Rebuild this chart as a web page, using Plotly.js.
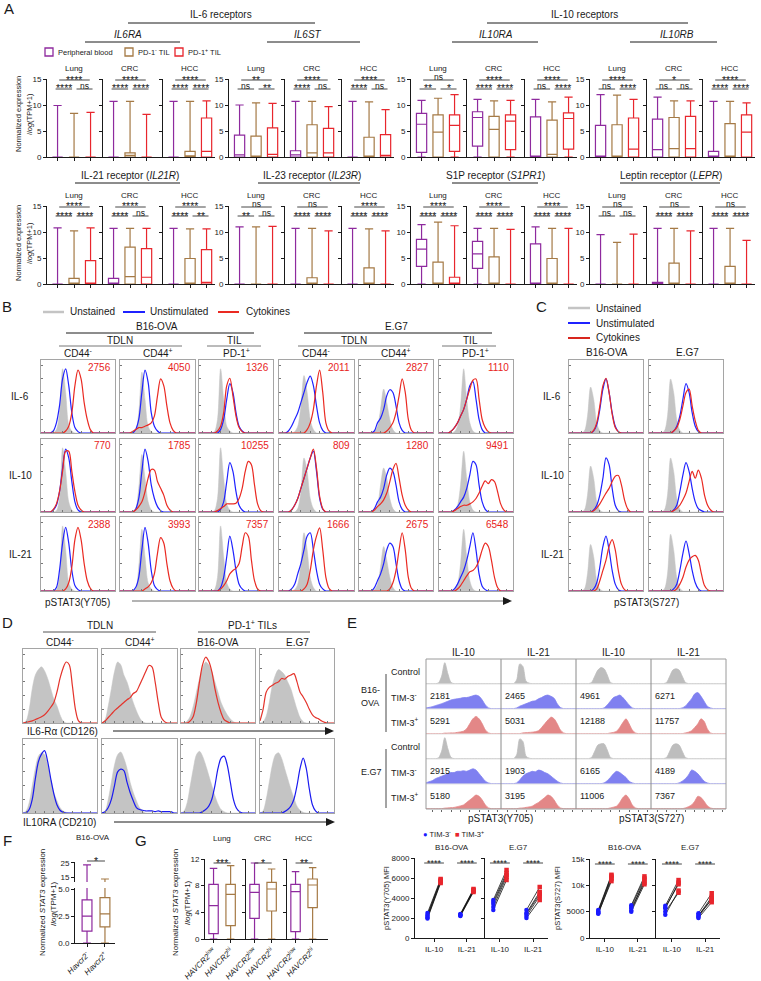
<!DOCTYPE html>
<html>
<head>
<meta charset="utf-8">
<script src="https://cdn.plot.ly/plotly-3.0.1.min.js"></script>
<style>html,body{margin:0;padding:0;background:#fff}#fig{width:761px;height:981px}</style>
</head>
<body>
<div id="fig"></div>
<script>
// ---------- Panel A: box summaries [min, q1, median, q3, max] for blood / PD-1- TIL / PD-1+ TIL ----------
const cohorts = ['Lung', 'CRC', 'HCC'];
const IL6RA = [
  [[0,0,0,0,9.9],[0,0,0,0,8.4],[0,0,0,0,8.6]],
  [[0,0,0,0,10.7],[0,0,0.3,0.8,10.7],[0,0,0,0,8.2]],
  [[0,0,0,0,10.7],[0,0,0.2,1.1,10.7],[0,0,1.1,7.5,10.8]]
];
const IL6ST = [
  [[0,0,0.4,4.2,10.0],[0,0,0,4.0,10.4],[0,0,0.5,5.6,10.3]],
  [[0,0,0.4,1.2,10.7],[0,0,0.8,6.2,10.7],[0,0,0.8,5.5,9.7]],
  [[0,0,0,0,10.7],[0,0,0,3.8,10.6],[0,0,0.3,4.3,9.1]]
];
const IL10RA = [
  [[0,0.9,6.3,8.4,10.9],[0,0,4.8,8.1,11.3],[0,1.1,6.1,8.1,12.0]],
  [[0,2.1,7.6,8.7,11.1],[0,0,5.3,7.8,10.8],[0,1.4,6.9,8.1,10.9]],
  [[0,0,0,7.7,11.1],[0,0,0.5,7.1,10.6],[0,1.5,7.4,8.5,11.5]]
];
const IL10RB = [
  [[0,0,0,6.1,12.0],[0,0,0,6.2,11.9],[0,0,1.5,7.5,11.1]],
  [[0,0,1.4,7.3,11.5],[0,0,1.6,7.6,10.8],[0,0,1.6,7.8,10.8]],
  [[0,0,0,1.1,10.7],[0,0,0,6.4,10.7],[0,0,4.8,8.1,10.4]]
];
const IL21R = [
  [[0,0,0,0,10.8],[0,0,0,1.1,10.2],[0,0,0,4.5,10.8]],
  [[0,0,0,1.1,10.7],[0,0,1.4,7.1,10.7],[0,0,1.3,6.8,10.7]],
  [[0,0,0,0,10.7],[0,0,0,4.9,10.6],[0,0,0.3,6.6,10.6]]
];
const IL23R = [
  [[0,0,0,0,11.0],[0,0,0,0,11.0],[0,0,0,0,11.1]],
  [[0,0,0,0,10.7],[0,0,0,1.2,10.7],[0,0,0,0,10.2]],
  [[0,0,0,0,10.7],[0,0,0,3.1,10.6],[0,0,0,0,10.2]]
];
const S1PR1 = [
  [[0,3.4,6.7,8.6,11.4],[0,0,0,4.2,11.9],[0,0,0,1.3,11.2]],
  [[0,3.0,5.8,8.2,10.7],[0,0,0,5.2,10.7],[0,0,0,0,10.5]],
  [[0,0,0,7.7,11.0],[0,0,0,4.9,10.7],[0,0,0,0,10.7]]
];
const LEPR = [
  [[0,0,0,0,9.5],[0,0,0,0,8.0],[0,0,0,0,9.6]],
  [[0,0,0,0.3,10.7],[0,0,0,4.0,10.7],[0,0,0,0,10.2]],
  [[0,0,0,0,10.7],[0,0,0,3.4,10.7],[0,0,0,0,8.4]]
];
// significance: [blood vs PD-1+, blood vs PD-1-, PD-1- vs PD-1+]
const IL6RA_sig = [['****','****','ns'],['****','****','****'],['****','****','****']];
const IL6ST_sig = [['**','ns','**'],['****','****','ns'],['****','****','ns']];
const IL10RA_sig = [['ns','**','*'],['****','****','****'],['****','ns','****']];
const IL10RB_sig = [['****','ns','****'],['*','ns','ns'],['****','****','****']];
const IL21R_sig = [['****','****','****'],['****','****','ns'],['****','****','**']];
const IL23R_sig = [['ns','**','ns'],['ns','****','****'],['****','****','****']];
const S1PR1_sig = [['****','****','****'],['****','****','****'],['****','****','****']];
const LEPR_sig = [['ns','ns','ns'],['ns','****','****'],['ns','****','****']];

// ---------- Histograms: counts on a 25-bin fluorescence grid ----------
const bins = [0,1,2,3,4,5,6,7,8,9,10,11,12,13,14,15,16,17,18,19,20,21,22,23,24];

const bIL6Gray = [
  [0,0,0,0,0,0.5,3,9.5,6,1.2,0.3,0,0,0,0,0,0,0,0,0,0,0,0,0,0],
  [0,0,0,0,0,0.3,3,9,5,1,0.2,0,0,0,0,0,0,0,0,0,0,0,0,0,0],
  [0,0,0,0,0,0.2,2,9.5,5,1,0.3,0,0,0,0,0,0,0,0,0,0,0,0,0,0],
  [0,0,0,0,0,0.2,1,4,8.5,6,2,0.5,0,0,0,0,0,0,0,0,0,0,0,0,0],
  [0,0,0,0,0,0.2,1,3.5,6.5,4.5,2,0.5,0,0,0,0,0,0,0,0,0,0,0,0,0],
  [0,0,0,0,0,0.2,1,4,9.5,5,1.5,0.3,0,0,0,0,0,0,0,0,0,0,0,0,0]
];
const bIL6Blue = [
  [0,0,0,0,0.3,1.5,4,8,9.5,7,3,0.8,0.2,0,0,0,0,0,0,0,0,0,0,0,0],
  [0,0,0,0,0,0.5,2,6,9.3,7.5,3,1,0.3,0,0,0,0,0,0,0,0,0,0,0,0],
  [0,0,0,0,0,0,0,0.5,2,5,7.3,6,3,1,0.3,0,0,0,0,0,0,0,0,0,0],
  [0,0,0,0.3,1,2,3,4.5,6,7.5,8.4,7,4,1.5,0.4,0,0,0,0,0,0,0,0,0,0],
  [0,0,0,0,0,0.3,1.5,2.2,3.5,5.5,6.4,6,4,1.5,0.4,0,0,0,0,0,0,0,0,0,0],
  [0,0,0,0,0.3,0.8,1.5,2.5,3.5,5,7,7.6,5,2,0.5,0,0,0,0,0,0,0,0,0,0]
];
const bIL6Red = [
  [0,0,0,0,0,0,0,0,0.3,1,3,7,9.3,8,4.5,2,0.5,0,0,0,0,0,0,0,0],
  [0,0,0,0,0.2,0.5,0.8,0.8,1,1.2,1.5,2.5,5.5,8,7,4,1.5,0.4,0,0,0,0,0,0,0],
  [0,0,0,0,0,0,0.3,1,3,7,8.1,5.5,2.5,0.8,0.2,0,0,0,0,0,0,0,0,0,0],
  [0,0,0,0,0,0,0,0,0,0.5,1.5,3.5,7,9.3,6,1.5,0.3,0,0,0,0,0,0,0,0],
  [0,0,0,0,0,0,0,0,0,0.3,0.8,1.5,3,5.5,8,6,2,0.4,0,0,0,0,0,0,0],
  [0,0,0,0,0.3,0.8,1.5,2.5,3.5,5,6.5,7.8,8,5,2,0.8,0.2,0,0,0,0,0,0,0,0]
];
const bIL10Gray = [
  [0,0,0,0,0,0.2,2,9.5,6,1.5,0.3,0,0,0,0,0,0,0,0,0,0,0,0,0,0],
  [0,0,0,0,0,0.5,3.5,8.5,5,1.5,0.3,0,0,0,0,0,0,0,0,0,0,0,0,0,0],
  [0,0,0,0,0,0.2,2,9.5,5,1.2,0.3,0,0,0,0,0,0,0,0,0,0,0,0,0,0],
  [0,0,0,0,0,0,0.5,3,8,6,2,0.5,0,0,0,0,0,0,0,0,0,0,0,0,0],
  [0,0,0,0,0,0.2,1,4,6.5,5,2,0.5,0,0,0,0,0,0,0,0,0,0,0,0,0],
  [0,0,0,0,0,0.2,1,4,9,5,1.5,0.3,0,0,0,0,0,0,0,0,0,0,0,0,0]
];
const bIL10Blue = [
  [0,0,0,0,0.3,1,3,6.5,9.3,8,4.5,1.5,0.3,0,0,0,0,0,0,0,0,0,0,0,0],
  [0,0,0,0,0,0.4,2,6,9.3,7.5,4,2,0.8,0.2,0,0,0,0,0,0,0,0,0,0,0],
  [0,0,0,0,0,0,0,0.4,1.5,4.5,7.3,6,3,1,0.3,0,0,0,0,0,0,0,0,0,0],
  [0,0,0,0,0.3,1,2,3.5,5,6.5,8,9,6,2,0.4,0,0,0,0,0,0,0,0,0,0],
  [0,0,0,0,0,0.5,1.5,2.2,3.5,5.5,6.5,6,4,1.5,0.4,0,0,0,0,0,0,0,0,0,0],
  [0,0,0,0,0,0.3,0.8,1.5,2.2,3.5,5.5,7.5,7,4,1.5,0.4,0,0,0,0,0,0,0,0,0]
];
const bIL10Red = [
  [0,0,0,0,0.4,1.2,3,6,9,9,6,3,1,0.3,0,0,0,0,0,0,0,0,0,0,0],
  [0,0,0,0,0,0.3,0.8,1.5,3,5,6.3,6.2,4.5,3.5,2.5,1,0.3,0,0,0,0,0,0,0,0],
  [0,0,0,0,0,0,0.2,0.5,0.8,1.2,1.2,1.2,1.3,2,3.5,6,7.5,7,4,1.2,0.2,0,0,0,0],
  [0,0,0,0,0.3,1,2,3.5,5,6.5,8,9.3,6.5,2.3,0.5,0,0,0,0,0,0,0,0,0,0],
  [0,0,0,0,0,0.3,0.8,1.2,1.8,2.8,4.5,6.3,7.2,5,2.5,1,0.3,0,0,0,0,0,0,0,0],
  [0,0,0,0,0,0.2,0.5,0.8,1,1,1.2,1.5,2,2.8,3.8,4.6,4.2,4.8,4.5,3,1.2,0.3,0,0,0]
];
const bIL21Gray = [
  [0,0,0,0,0,0.2,2,9.5,6,1.2,0.3,0,0,0,0,0,0,0,0,0,0,0,0,0,0],
  [0,0,0,0,0,0.3,3.5,9,5,1.2,0.3,0,0,0,0,0,0,0,0,0,0,0,0,0,0],
  [0,0,0,0,0,0.2,2,9.5,5,1.2,0.3,0,0,0,0,0,0,0,0,0,0,0,0,0,0],
  [0,0,0,0,0,0.2,1,4,8.5,6,2,0.5,0,0,0,0,0,0,0,0,0,0,0,0,0],
  [0,0,0,0,0,0.2,1,3.5,6.5,4.5,2,0.5,0,0,0,0,0,0,0,0,0,0,0,0,0],
  [0,0,0,0,0,0.2,1,4,9,5,1.5,0.3,0,0,0,0,0,0,0,0,0,0,0,0,0]
];
const bIL21Blue = [
  [0,0,0,0,0,0.5,3,7,9.3,7,3,0.8,0.2,0,0,0,0,0,0,0,0,0,0,0,0],
  [0,0,0,0,0,0.5,2,6,9.3,7,3,0.8,0.2,0,0,0,0,0,0,0,0,0,0,0,0],
  [0,0,0,0,0,0,0,0.5,2,5,8,6,3,1,0.3,0,0,0,0,0,0,0,0,0,0],
  [0,0,0,0,0.3,1,2.5,4,6,8,8.5,6,3,1,0.3,0,0,0,0,0,0,0,0,0,0],
  [0,0,0,0,0,0.5,1.5,2.5,4,6,7,6.5,4,1.5,0.3,0,0,0,0,0,0,0,0,0,0],
  [0,0,0,0,0,0.3,1,2,3,4.5,6.5,8.5,6,2.5,0.7,0.2,0,0,0,0,0,0,0,0,0]
];
const bIL21Red = [
  [0,0,0,0,0,0,0,0,0.3,1.2,3.5,7.5,9.3,7.5,4,1.5,0.4,0,0,0,0,0,0,0,0],
  [0,0,0,0,0,0,0,0,0.3,0.6,1.2,2.5,5.5,7.8,7,4,1.5,0.4,0,0,0,0,0,0,0],
  [0,0,0,0,0,0,0,0.3,0.8,1.5,2.5,3,3.3,4,6.5,8.5,8,4.5,1.5,0.3,0,0,0,0,0],
  [0,0,0,0,0,0,0,0,0.3,1,3,6,8,9.2,6,2,0.4,0,0,0,0,0,0,0,0],
  [0,0,0,0,0,0,0,0,0,0,0.3,1.2,3,6,8.5,6,2,0.4,0,0,0,0,0,0,0],
  [0,0,0,0,0,0,0.3,0.8,1.5,2.2,2.8,3,3.5,4.5,6,7,6.5,4.5,2,0.5,0,0,0,0,0]
];
const bIL6Mfi = [2756, 4050, 1326, 2011, 2827, 1110];
const bIL10Mfi = [770, 1785, 10255, 809, 1280, 9491];
const bIL21Mfi = [2388, 3993, 7357, 1666, 2675, 6548];

const cIL6Gray = [
  [0,0,0,0,0,0.3,2.5,6.8,5,1.5,0.3,0,0,0,0,0,0,0,0,0,0,0,0,0,0],
  [0,0,0,0,0,0.3,2.5,8,6,2,0.4,0,0,0,0,0,0,0,0,0,0,0,0,0,0]
];
const cIL10Gray = [
  [0,0,0,0,0,0.3,2.5,6.8,5,1.5,0.3,0,0,0,0,0,0,0,0,0,0,0,0,0,0],
  [0,0,0,0,0,0.3,2.5,8,6,2,0.4,0,0,0,0,0,0,0,0,0,0,0,0,0,0]
];
const cIL21Gray = [
  [0,0,0,0,0,0.3,2.5,6.8,5,1.5,0.3,0,0,0,0,0,0,0,0,0,0,0,0,0,0],
  [0,0,0,0,0,0.3,2.5,8.3,6,2,0.4,0,0,0,0,0,0,0,0,0,0,0,0,0,0]
];
const cIL6Blue = [
  [0,0,0,0,0,0,0,0,0.3,1.2,3.5,6.5,8,6,3,1,0.2,0,0,0,0,0,0,0,0],
  [0,0,0,0,0,0,0,0,0.3,1,2.5,5,7.3,6,3,1,0.2,0,0,0,0,0,0,0,0]
];
const cIL10Blue = [
  [0,0,0,0,0,0,0,0,0.3,1,2.5,5,8,7,3.5,1,0.2,0,0,0,0,0,0,0,0],
  [0,0,0,0,0,0,0,0,0.3,1,3,5.5,7.3,6,3.5,1.5,0.5,0.2,0,0,0,0,0,0,0]
];
const cIL21Blue = [
  [0,0,0,0,0,0,0,0,0.3,1.2,3.5,6.5,8,6,3,1,0.2,0,0,0,0,0,0,0,0],
  [0,0,0,0,0,0,0,0,0.3,1,3,5.5,7.3,5.5,3,1.2,0.3,0,0,0,0,0,0,0,0]
];
const cIL6Red = [
  [0,0,0,0,0,0,0,0,0.4,1.5,4,7,8.1,6,2.8,0.8,0.2,0,0,0,0,0,0,0,0],
  [0,0,0,0,0,0,0,0,0.3,0.8,2,4,6,6.5,4,1.8,0.4,0,0,0,0,0,0,0,0]
];
const cIL10Red = [
  [0,0,0,0,0,0,0,0,0.2,0.6,1.2,2,2.8,3.5,4.5,5.3,5.4,4,1.8,0.5,0,0,0,0,0],
  [0,0,0,0,0,0,0,0,0.2,0.5,1,1.8,2.8,4.5,6,5,6.2,5,2.5,1,0.3,0,0,0,0]
];
const cIL21Red = [
  [0,0,0,0,0,0,0,0,0,0.3,1.5,3,4.5,6.5,7.5,6,3,1,0.2,0,0,0,0,0,0],
  [0,0,0,0,0,0,0,0,0,0.3,1,2,3.5,4.5,5,5.2,4.5,2.5,0.8,0.2,0,0,0,0,0]
];

const dCD126Gray = [
  [0,0.3,2,5,7,7.8,8.2,7.6,6.5,5,3.5,2.5,1.2,0.3,0,0,0,0,0,0,0,0,0,0,0],
  [0,0.5,2.5,5,7.5,8.9,8.5,7,6,4.5,3,1.8,0.8,0.2,0,0,0,0,0,0,0,0,0,0,0],
  [0,0,0.3,1,2.5,4.5,6.5,8,8.9,8.5,7.5,6,4.5,3,2,1.2,0.6,0.2,0,0,0,0,0,0,0],
  [0,0.2,1,3,5.5,7,7.8,7.5,7,6,5,3.5,2,0.8,0.2,0,0,0,0,0,0,0,0,0,0]
];
const dCD126Red = [
  [0,0.1,0.2,0.3,0.5,0.7,0.9,1.2,1.7,2.3,3,4.5,6.5,8,8.9,8.5,5.5,2,0.3,0,0,0,0,0,0],
  [0,0.3,0.8,1.3,1.8,2.2,2.6,3,3.4,3.7,4.3,4.6,5.5,6.5,7.5,8.4,8.2,6,3,0.8,0.2,0,0,0,0],
  [0,0,0,0.3,1,3,6,8.5,9.6,9,7.5,5,3,1.5,0.5,0.2,0,0,0,0,0,0,0,0,0],
  [0.3,2,4.5,5.2,5.5,5.8,6,6.5,6.4,6.8,7,7.2,6,4.5,3.8,3,2,1.2,0.8,0.6,0.3,0.1,0,0,0]
];
const dCD210Gray = [
  [0,0.3,1.5,4,6.5,8.3,8.8,8.5,7,5,3,1.8,0.8,0.3,0.1,0,0,0,0,0,0,0,0,0,0],
  [0,0.3,2,4.5,7,8.5,8.9,8,6.5,4.5,3,1.8,0.8,0.3,0,0,0,0,0,0,0,0,0,0,0],
  [0,0.3,1.5,4,6.5,8.5,9,8.3,7,5.5,4,2.5,1.3,0.5,0.2,0,0,0,0,0,0,0,0,0,0],
  [0,0.3,2,4.5,7,8.5,8.8,8,6.5,5,3.5,2.2,1,0.4,0.1,0,0,0,0,0,0,0,0,0,0]
];
const dCD210Blue = [
  [0,0,0.5,2,5,7.5,8.6,9.1,7.5,5,2.8,1.2,0.4,0.1,0,0,0,0,0,0,0,0,0,0,0],
  [0,0.2,0.8,2,4,6,6.4,6.2,4.5,3,1.8,0.8,0.5,0.4,0.3,0.3,0.3,0.2,0.3,0.2,0.2,0.2,0.2,0,0],
  [0,0,0,0,0,0,0,0.2,0.5,1,2,4,6.5,8,8.3,7,4.5,2,0.7,0.2,0,0,0,0,0],
  [0,0,0,0,0,0,0,0,0.2,0.5,1,2,4,6.5,8,6.5,3.5,1.2,0.3,0,0,0,0,0,0]
];

// E ridges, rows: B16 control / TIM-3- / TIM-3+, E.G7 control / TIM-3- / TIM-3+
const eY705IL10 = [
  [0,0,0,0,0.3,3,8.5,4,0.5,0,0,0,0,0,0,0,0,0,0,0,0,0,0,0,0],
  [0.3,0.5,0.8,1.2,1.6,2,2.5,3,3.5,3.8,4,4.2,4.5,4.5,4.8,5.2,5.5,5,3.5,1.5,0.3,0,0,0,0],
  [0,0,0,0,0,0,0.2,0.2,0.3,0.3,0.5,0.7,1,2,4,6,7,6,4,1.5,0.3,0,0,0,0],
  [0,0,0,0,0.3,3,8.5,4,0.5,0,0,0,0,0,0,0,0,0,0,0,0,0,0,0,0],
  [0.3,0.8,1.2,2,2.5,3,3.5,4,4.5,4.5,5,5,5.2,5,5.5,6,5.5,4,2.5,1,0.3,0,0,0,0],
  [0,0,0,0,0,0,0.2,0.3,0.4,0.5,0.8,1.1,1.5,2.5,3.5,4.5,5.5,5,3.5,1.5,0.3,0,0,0,0]
];
const eY705IL21 = [
  [0,0,0,0,0,1.5,8,7,1,0.2,0,0,0,0,0,0,0,0,0,0,0,0,0,0,0],
  [0,0,0,0,0,0.3,1,1.5,2,2.5,3,3.2,4,4.5,5.2,5.5,5,4.2,2,0.5,0,0,0,0,0],
  [0,0,0,0,0,0,0,0.3,0.4,0.5,0.6,0.8,1.2,2.5,4,5.5,6.7,6,4,1.5,0.3,0,0,0,0],
  [0,0,0,0,0,1.5,8,7,1,0.2,0,0,0,0,0,0,0,0,0,0,0,0,0,0,0],
  [0,0,0,0,0,0.3,1.5,3,4,4.5,5,4.8,5.5,5.2,4.5,4,3,2,1,0.3,0,0,0,0,0],
  [0,0,0,0,0,0,0.2,0.3,0.5,0.7,1,1.8,2.5,3.5,4.5,5.5,5,3.5,1.5,0.3,0,0,0,0,0]
];
const eS727IL10 = [
  [0,0,0,0,0,0.5,3,5.5,6.5,6,3.5,0.5,0,0,0,0,0,0,0,0,0,0,0,0,0],
  [0,0,0,0,0,0,0,0,0,0.3,1.5,3,4.5,5,5.5,4.5,3,1.5,0.3,0,0,0,0,0,0],
  [0,0,0,0,0,0,0,0,0,0,0,0.3,0.5,1,2.5,4.5,6,4,1.5,0.3,0,0,0,0,0],
  [0,0,0,0,0,0.5,3,5.5,6,6,3.5,0.5,0,0,0,0,0,0,0,0,0,0,0,0,0],
  [0,0,0,0,0,0,0,0,0,0.3,1.2,2.5,4,5,4.5,3.5,2.5,1,0.3,0,0,0,0,0,0],
  [0,0,0,0,0,0,0,0,0,0,0,0.3,0.6,1,2.5,4.5,5.5,4,1.5,0.3,0,0,0,0,0]
];
const eS727IL21 = [
  [0,0,0,0,0,0.5,3,5.5,6,5.5,3,0.5,0,0,0,0,0,0,0,0,0,0,0,0,0],
  [0,0,0,0,0,0,0,0,0,0,0.3,1,2.5,4,6,6.5,5,3,1,0.3,0,0,0,0,0],
  [0,0,0,0,0,0,0,0,0,0,0,0.3,0.6,1.2,2.5,4,6,5,2,0.3,0,0,0,0,0],
  [0,0,0,0,0,0.5,3,5.5,6,5.5,3,0.5,0,0,0,0,0,0,0,0,0,0,0,0,0],
  [0,0,0,0,0,0,0,0,0,0.3,1,2,3.5,5.5,5,4,2.5,1,0.3,0,0,0,0,0,0],
  [0,0,0,0,0,0,0,0,0,0,0,0.3,0.8,1.5,3,5,4.5,3,1.2,0.3,0,0,0,0,0]
];
const eMfiY705IL10 = ['', 2181, 5291, '', 2915, 5180];
const eMfiY705IL21 = ['', 2465, 5031, '', 1903, 3195];
const eMfiS727IL10 = ['', 4961, 12188, '', 6165, 11006];
const eMfiS727IL21 = ['', 6271, 11757, '', 4189, 7367];

// E paired MFI, [IL-10 mice, IL-21 mice]
const y705B16Neg = [[2500, 2200, 1950, 2050, 2300], [2200, 2400, 2300, 2350, 2250]];
const y705B16Pos = [[5900, 5700, 5500, 5600, 5800], [4600, 4900, 4750, 4800, 4700]];
const y705EG7Neg = [[3800, 3600, 3100, 2800, 3400], [2800, 2500, 2200, 2000, 2400]];
const y705EG7Pos = [[6800, 6500, 6100, 5800, 6300], [5100, 4600, 4200, 3800, 4400]];
const s727B16Neg = [[5300, 4900, 4700, 5100, 4600], [6200, 5600, 5200, 5900, 5000]];
const s727B16Pos = [[12000, 11500, 10800, 11800, 11200], [11700, 10500, 11000, 11300, 10200]];
const s727EG7Neg = [[6100, 5600, 5000, 4400, 5800], [4700, 4200, 3800, 4400, 4000]];
const s727EG7Pos = [[11000, 10500, 8600, 9000, 10200], [8500, 7800, 6800, 7200, 7500]];

// F / G boxes [min, q1, median, q3, max]
const fHavcr2 = [[0, 1.1, 2.5, 4.0, 23.5], [0, 1.5, 2.7, 4.2, 13.6]];
const gLung = [[0, 0.8, 5.0, 8.2, 10.6], [0, 2.0, 6.7, 8.2, 11.0]];
const gCRC = [[0, 3.1, 7.0, 8.2, 11.4], [0, 4.2, 7.5, 8.5, 10.5]];
const gHCC = [[0, 1.1, 7.1, 8.2, 10.1], [0, 4.7, 8.1, 9.0, 10.7]];
const gSig = ['***', '*', '**'];

// ---------- drawing ----------
const W = 761, H = 981;
const FONT = '"Liberation Sans", Arial, Helvetica, sans-serif';
const INK = '#1a1a1a';
const PURPLE = '#8e2a9e', TAN = '#a57a46', RED = '#e8262d';
const groupColors = [PURPLE, TAN, RED];
const BLUE_L = '#1f22ff', RED_L = '#ea2a22', GRAY_F = '#c4c4c4';

const traces = [], annotations = [], shapes = [];
const layout = {
  width: W, height: H, margin: {l: 0, r: 0, t: 0, b: 0},
  paper_bgcolor: '#fff', plot_bgcolor: 'rgba(0,0,0,0)', showlegend: false,
  font: {family: FONT, size: 8, color: INK}, annotations: annotations, shapes: shapes
};
const px = x => x / W;
const py = y => 1 - y / H;
const baseAxis = {showgrid: false, zeroline: false, showticklabels: false, ticks: '', fixedrange: true, showline: false};
const inkAxis = {showline: true, linecolor: INK, linewidth: 1, ticks: 'outside', ticklen: 3, tickwidth: 1, tickcolor: INK,
  tickfont: {family: FONT, size: 8, color: INK}};
let nAx = 0;

function subplot(x0, x1, y0, y1, xo, yo) {
  nAx++;
  const s = nAx === 1 ? '' : String(nAx);
  layout['xaxis' + s] = Object.assign({}, baseAxis, {domain: [px(x0), px(x1)], anchor: 'y' + s}, xo);
  layout['yaxis' + s] = Object.assign({}, baseAxis, {domain: [py(y1), py(y0)], anchor: 'x' + s}, yo);
  return {x: 'x' + s, y: 'y' + s};
}
function label(x, y, t, size, extra) {
  annotations.push(Object.assign({xref: 'paper', yref: 'paper', x: px(x), y: py(y), text: t, showarrow: false,
    xanchor: 'center', yanchor: 'middle', font: {family: FONT, size: size || 8, color: INK}}, extra || {}));
}
function hline(x0, x1, y, color, w) {
  shapes.push({type: 'line', xref: 'paper', yref: 'paper', x0: px(x0), x1: px(x1), y0: py(y), y1: py(y),
    line: {color: color || INK, width: w || 1}});
}
function vline(x, y0, y1, color, w) {
  shapes.push({type: 'line', xref: 'paper', yref: 'paper', x0: px(x), x1: px(x), y0: py(y0), y1: py(y1),
    line: {color: color || INK, width: w || 1}});
}
function arrowHead(x, y) {
  shapes.push({type: 'path', xref: 'paper', yref: 'paper', fillcolor: INK, line: {width: 0},
    path: `M${px(x - 9)},${py(y - 4)} L${px(x)},${py(y)} L${px(x - 9)},${py(y + 4)} Z`});
}
// stars sit high in the em box, "ns" sits low: place each so the glyphs rest just above the line
function bracket(ax, c0, c1, yPix, sig, scale) {
  const k = scale || 1;
  const stars = sig.indexOf('*') >= 0;
  shapes.push({type: 'line', xref: ax.x, yref: 'paper', x0: c0, x1: c1, y0: py(yPix), y1: py(yPix), line: {color: INK, width: 0.8}});
  annotations.push({xref: ax.x, yref: 'paper', x: (c0 + c1) / 2, y: py(stars ? yPix - 0.5 : yPix - 2.8), text: sig,
    showarrow: false, xanchor: 'center', yanchor: 'middle',
    font: {family: FONT, size: (stars ? 10.5 : 8.5) * k, color: INK}});
}
function boxTrace(ax, pos, st, color, w) {
  return {type: 'box', xaxis: ax.x, yaxis: ax.y, x: [pos], lowerfence: [st[0]], q1: [st[1]], median: [st[2]],
    q3: [st[3]], upperfence: [st[4]], line: {color: color, width: 1.2}, fillcolor: 'rgba(255,255,255,0)',
    width: w || 0.62, whiskerwidth: 0.8, boxpoints: false, hoverinfo: 'skip'};
}

// ----- Panel A -----
label(9, 9, 'A', 15);
label(221, 15, 'IL-6 receptors', 10); hline(128, 315, 23);
label(584, 15, 'IL-10 receptors', 10); hline(487, 688, 23);
label(128, 35, '<i>IL6RA</i>', 10); hline(85, 180, 42);
label(308, 35, '<i>IL6ST</i>', 10); hline(267, 360, 42);
label(496, 35, '<i>IL10RA</i>', 10); hline(452, 538, 42);
label(677, 35, '<i>IL10RB</i>', 10); hline(630, 717, 42);
[[45, 'Peripheral blood'], [125, 'PD-1<sup>-</sup> TIL'], [175, 'PD-1<sup>+</sup> TIL']].forEach((g, i) => {
  shapes.push({type: 'rect', xref: 'paper', yref: 'paper', x0: px(g[0]), x1: px(g[0] + 8), y0: py(56), y1: py(48),
    line: {color: groupColors[i], width: 1.3}});
  label(g[0] + 11, 52, g[1], 7.5, {xanchor: 'left'});
});
label(130, 175, 'IL-21 receptor (<i>IL21R</i>)', 10); hline(75, 180, 183);
label(312, 175, 'IL-23 receptor (<i>IL23R</i>)', 10); hline(258, 360, 183);
label(495, 175, 'S1P receptor (<i>S1PR1</i>)', 10); hline(452, 538, 183);
label(671, 175, 'Leptin receptor (<i>LEPR</i>)', 10); hline(620, 720, 183);
[114, 243].forEach(yc => {
  label(18, yc, 'Normalized expression', 7.5, {textangle: -90});
  label(29, yc, '/<i>log</i>(TPM+1)', 7.5, {textangle: -90});
});

const aAxisX = [[47, 103, 163], [229, 285, 342], [411, 467, 525], [590, 647, 703]];
function drawA(sets, sigs, yTop, yBot) {
  sets.forEach((set, g) => {
    aAxisX[g].forEach((x0, c) => {
      const w = c === 2 ? 52 : 56;
      const ax = subplot(x0, x0 + w, yTop, yBot,
        Object.assign({}, inkAxis, {range: [-0.64, -0.64 + w / 16.5], tickvals: [0, 1, 2], layer: 'below traces'}),
        Object.assign({}, inkAxis, {range: [0, 15], tickvals: [0, 5, 10, 15], showticklabels: c === 0, layer: 'below traces'}));
      set[c].forEach((st, k) => traces.push(boxTrace(ax, k, st, groupColors[k])));
      annotations.push({xref: ax.x, yref: 'paper', x: 1, y: py(yTop - 17), text: cohorts[c], showarrow: false,
        font: {family: FONT, size: 8, color: INK}});
      const sg = sigs[g][c];
      bracket(ax, 0.1, 1.95, yTop + 1, sg[0]);
      bracket(ax, -0.12, 0.88, yTop + 10, sg[1]);
      bracket(ax, 1.15, 2.12, yTop + 10, sg[2]);
    });
  });
}
drawA([IL6RA, IL6ST, IL10RA, IL10RB], [IL6RA_sig, IL6ST_sig, IL10RA_sig, IL10RB_sig], 79, 157);
drawA([IL21R, IL23R, S1PR1, LEPR], [IL21R_sig, IL23R_sig, S1PR1_sig, LEPR_sig], 206, 284);

// ----- histogram helper (B, C, D) -----
function histPanel(x0, x1, y0, y1, gray, lines) {
  const frame = {showline: true, mirror: true, linecolor: '#a5a5a5', linewidth: 1, ticks: 'inside', ticklen: 2, tickcolor: '#777'};
  const ax = subplot(x0, x1, y0, y1,
    Object.assign({}, frame, {range: [0, 24], tickvals: [1, 4, 7, 10, 13, 16, 19, 22]}),
    Object.assign({}, frame, {range: [0, 10.8], tickvals: [0, 2, 4, 6, 8, 10]}));
  traces.push({type: 'scatter', mode: 'lines', xaxis: ax.x, yaxis: ax.y, x: bins, y: gray, fill: 'tozeroy',
    fillcolor: GRAY_F, line: {color: GRAY_F, width: 0.5, shape: 'spline', smoothing: 0.9}, hoverinfo: 'skip'});
  lines.forEach(l => traces.push({type: 'scatter', mode: 'lines', xaxis: ax.x, yaxis: ax.y, x: bins, y: l.y,
    line: {color: l.color, width: 1.2, shape: 'spline', smoothing: 0.9}, hoverinfo: 'skip'}));
  return ax;
}

// ----- Panel B -----
label(7, 307, 'B', 15);
hline(43, 64, 312, GRAY_F, 2.5); label(68, 312, 'Unstained', 10, {xanchor: 'left'});
hline(123, 145, 312, BLUE_L, 2); label(148, 312, 'Unstimulated', 10, {xanchor: 'left'});
hline(218, 239, 312, RED_L, 2); label(244, 312, 'Cytokines', 10, {xanchor: 'left'});
label(157, 327, 'B16-OVA', 10); hline(66, 254, 333);
label(396, 327, 'E.G7', 10); hline(304, 492, 333);
label(120, 340, 'TDLN', 10); hline(59, 182, 346, '#777');
label(234, 340, 'TIL', 10); hline(207, 261, 346, '#777');
label(354, 340, 'TDLN', 10); hline(298, 410, 346, '#777');
label(470, 340, 'TIL', 10); hline(442, 496, 346, '#777');
const bCols = [[41, 115], [120, 195], [199, 273], [279, 354], [359, 433], [439, 513]];
const bRows = [[360, 433], [439, 512], [517, 591]];
['CD44<sup>-</sup>', 'CD44<sup>+</sup>', 'PD-1<sup>+</sup>', 'CD44<sup>-</sup>', 'CD44<sup>+</sup>', 'PD-1<sup>+</sup>']
  .forEach((t, j) => label((bCols[j][0] + bCols[j][1]) / 2, 353, t, 10));
const bGray = [bIL6Gray, bIL10Gray, bIL21Gray];
const bBlue = [bIL6Blue, bIL10Blue, bIL21Blue];
const bRed = [bIL6Red, bIL10Red, bIL21Red];
const bMfi = [bIL6Mfi, bIL10Mfi, bIL21Mfi];
const rowNames = ['IL-6', 'IL-10', 'IL-21'];
bRows.forEach((r, i) => {
  bCols.forEach((c, j) => {
    histPanel(c[0], c[1], r[0], r[1], bGray[i][j], [{y: bBlue[i][j], color: BLUE_L}, {y: bRed[i][j], color: RED_L}]);
    label(c[1] - 2, r[0] + 7, String(bMfi[i][j]), 10, {xanchor: 'right', font: {family: FONT, size: 10, color: '#e8231c'}});
  });
  label(20, (r[0] + r[1]) / 2, rowNames[i], 10);
});
label(43, 602, 'pSTAT3(Y705)', 10, {xanchor: 'left'});
hline(132, 504, 601, '#9a9a9a', 1.5); arrowHead(512, 601);

// ----- Panel C -----
label(541, 307, 'C', 15);
hline(568, 590, 308, GRAY_F, 2.5); label(594, 308, 'Unstained', 10, {xanchor: 'left'});
hline(568, 590, 323, BLUE_L, 2); label(594, 323, 'Unstimulated', 10, {xanchor: 'left'});
hline(568, 590, 338, '#d8261e', 2); label(594, 338, 'Cytokines', 10, {xanchor: 'left'});
const cCols = [[569, 643], [649, 723]];
label(607, 353, 'B16-OVA', 10); label(687, 353, 'E.G7', 10);
const cGray = [cIL6Gray, cIL10Gray, cIL21Gray];
const cBlue = [cIL6Blue, cIL10Blue, cIL21Blue];
const cRed = [cIL6Red, cIL10Red, cIL21Red];
bRows.forEach((r, i) => {
  cCols.forEach((c, j) => histPanel(c[0], c[1], r[0], r[1], cGray[i][j],
    [{y: cBlue[i][j], color: BLUE_L}, {y: cRed[i][j], color: RED_L}]));
  label(552, (r[0] + r[1]) / 2, rowNames[i], 10);
});
label(646, 602, 'pSTAT3(S727)', 10);

// ----- Panel D -----
label(7, 622, 'D', 15);
label(100, 625, 'TDLN', 10); hline(43, 156, 632, '#555');
label(253, 625, 'PD-1<sup>+</sup> TILs', 10); hline(198, 310, 632, '#555');
const dCols = [[23, 97], [102, 177], [181, 255], [260, 334]];
['CD44<sup>-</sup>', 'CD44<sup>+</sup>', 'B16-OVA', 'E.G7'].forEach((t, j) => label((dCols[j][0] + dCols[j][1]) / 2, 642, t, 10));
dCols.forEach((c, j) => {
  histPanel(c[0], c[1], 649, 723, dCD126Gray[j], [{y: dCD126Red[j], color: '#e4332b'}]);
  histPanel(c[0], c[1], 739, 813, dCD210Gray[j], [{y: dCD210Blue[j], color: '#1a1af0'}]);
});
label(25, 731, 'IL6-R\u03b1 (CD126)', 10, {xanchor: 'left'});
hline(113, 326, 731, INK, 1); arrowHead(334, 731);
label(21, 822, 'IL10RA (CD210)', 10, {xanchor: 'left'});
hline(114, 327, 822, INK, 1); arrowHead(335, 822);

// ----- Panel E ridges -----
label(352, 622, 'E', 15);
const eColX = [426, 501, 576, 651];
const eCols = [eY705IL10, eY705IL21, eS727IL10, eS727IL21];
const eMfi = [eMfiY705IL10, eMfiY705IL21, eMfiS727IL10, eMfiS727IL21];
const eFill = ['#bdbdbd', '#7f80f0', '#e38787', '#bdbdbd', '#7f80f0', '#e38787'];
const eRowNames = ['Control', 'TIM-3<sup>-</sup>', 'TIM-3<sup>+</sup>', 'Control', 'TIM-3<sup>-</sup>', 'TIM-3<sup>+</sup>'];
['IL-10', 'IL-21', 'IL-10', 'IL-21'].forEach((t, j) => label(eColX[j] + 37.5, 652, t, 10));
eCols.forEach((col, j) => {
  col.forEach((ys, r) => {
    const y0 = 659 + 25 * r;
    const last = r === 5;
    const ax = subplot(eColX[j], eColX[j] + 75, y0, y0 + 25,
      last ? {range: [0, 24], ticks: 'outside', ticklen: 2, tickcolor: '#666', tickvals: [2, 5, 8, 11, 14, 17, 20, 23]} : {range: [0, 24]},
      {range: [-0.15, 10]});
    traces.push({type: 'scatter', mode: 'lines', xaxis: ax.x, yaxis: ax.y, x: bins, y: ys, fill: 'tozeroy',
      fillcolor: eFill[r], line: {color: eFill[r], width: 0.8, shape: 'spline', smoothing: 0.8}, hoverinfo: 'skip'});
    if (eMfi[j][r] !== '') label(eColX[j] + 2, y0 + 11.5, String(eMfi[j][r]), 9, {xanchor: 'left'});
  });
});
for (let r = 1; r < 6; r++) hline(426, 726, 659 + 25 * r, '#dcdcdc', 0.8);
[501, 576, 651].forEach(x => vline(x, 659, 809, '#8a8a8a', 1));
shapes.push({type: 'rect', xref: 'paper', yref: 'paper', x0: px(426), x1: px(726), y0: py(809), y1: py(659),
  line: {color: '#9a9a9a', width: 1}});
eRowNames.forEach((t, r) => label(389, 671.5 + 25 * r, t, 9, {xanchor: 'left'}));
vline(386, 674, 732, INK, 0.8); vline(386, 749, 808, INK, 0.8);
label(370, 690, 'B16-', 9); label(370, 703, 'OVA', 9); label(371, 772, 'E.G7', 9);
label(501, 818, 'pSTAT3(Y705)', 10); label(651, 818, 'pSTAT3(S727)', 10);

// ----- Panel E paired MFI -----
label(453, 834, '<span style="color:#1a1aff">\u25CF</span> TIM-3<sup>-</sup>  <span style="color:#e8262d">\u25A0</span> TIM-3<sup>+</sup>', 7.5);
function pairedPanel(x0, x1, xr, y0, y1, yr, yticks, showY, neg, pos, title) {
  const ax = subplot(x0, x1, y0, y1,
    Object.assign({}, inkAxis, {range: xr, tickvals: [0, 1], ticktext: ['IL-10', 'IL-21'], showticklabels: true}),
    Object.assign({}, inkAxis, {range: yr, tickvals: yticks, showticklabels: showY}));
  neg.forEach((vals, c) => {
    const lx = [], ly = [];
    vals.forEach((v, i) => { lx.push(c - 0.2, c + 0.2, null); ly.push(v, pos[c][i], null); });
    traces.push({type: 'scatter', mode: 'lines', xaxis: ax.x, yaxis: ax.y, x: lx, y: ly,
      line: {color: '#111', width: 0.8}, hoverinfo: 'skip'});
    traces.push({type: 'scatter', mode: 'markers', xaxis: ax.x, yaxis: ax.y, x: vals.map(() => c - 0.2), y: vals,
      marker: {color: '#1a1aff', size: 4.5, symbol: 'circle'}, cliponaxis: false, hoverinfo: 'skip'});
    traces.push({type: 'scatter', mode: 'markers', xaxis: ax.x, yaxis: ax.y, x: pos[c].map(() => c + 0.2), y: pos[c],
      marker: {color: '#e8262d', size: 4.5, symbol: 'square'}, cliponaxis: false, hoverinfo: 'skip'});
    bracket(ax, c - 0.3, c + 0.3, y0 + 5, '****', 0.85);
  });
  label((x0 + x1) / 2 + 2, 847, title, 8);
  return ax;
}
pairedPanel(415, 485, [-0.58, 1.55], 858, 938, [0, 8000], [0, 2000, 4000, 6000, 8000], true, y705B16Neg, y705B16Pos, 'B16-OVA');
pairedPanel(485, 548, [-0.45, 1.45], 858, 938, [0, 8000], [0, 2000, 4000, 6000, 8000], false, y705EG7Neg, y705EG7Pos, 'E.G7');
pairedPanel(590, 656, [-0.45, 1.55], 859, 938, [0, 15000], [0, 5000, 10000, 15000], true, s727B16Neg, s727B16Pos, 'B16-OVA');
pairedPanel(656, 720, [-0.48, 1.45], 859, 938, [0, 15000], [0, 5000, 10000, 15000], false, s727EG7Neg, s727EG7Pos, 'E.G7');
label(386, 898, 'pSTAT3(Y705) MFI', 7.5, {textangle: -90});
label(557, 898, 'pSTAT3(S727) MFI', 7.5, {textangle: -90});

// ----- Panel F -----
label(7, 840, 'F', 15);
label(93, 837, 'B16-OVA', 8);
const fColors = [PURPLE, TAN];
const fLow = subplot(75, 115, 888, 943,
  Object.assign({}, inkAxis, {range: [-0.67, 1.56], tickvals: [0, 1], showticklabels: true, tickangle: -45,
    ticktext: ['<i>Havcr2</i><sup>-</sup>', '<i>Havcr2</i><sup>+</sup>']}),
  Object.assign({}, inkAxis, {range: [0, 5.1], tickvals: [0, 2.5, 5], ticktext: ['0.0', '2.5', '5.0'], showticklabels: true}));
const fHigh = subplot(75, 115, 862, 882, {range: [-0.67, 1.56]},
  Object.assign({}, inkAxis, {range: [11.5, 25.5], tickvals: [15, 25], showticklabels: true}));
[fLow, fHigh].forEach(ax => fHavcr2.forEach((st, k) => traces.push(boxTrace(ax, k, st, fColors[k], 0.55))));
bracket(fLow, 0, 1, 861, '*');
label(42, 903, 'Normalized <i>STAT3</i> expression', 8, {textangle: -90});
label(53, 903, '/<i>log</i>(TPM+1)', 8, {textangle: -90});

// ----- Panel G -----
label(141, 840, 'G', 15);
const gSets = [gLung, gCRC, gHCC];
[205, 246, 287].forEach((x0, c) => {
  const ax = subplot(x0, x0 + 41, 859, 939,
    Object.assign({}, inkAxis, {range: [-0.5, 1.9], tickvals: [0, 1], showticklabels: true, tickangle: -45,
      ticktext: ['<i>HAVCR2</i><sup>low</sup>', '<i>HAVCR2</i><sup>hi</sup>']}),
    Object.assign({}, inkAxis, {range: [0, 12], tickvals: [0, 4, 8, 12], showticklabels: c === 0}));
  gSets[c].forEach((st, k) => traces.push(boxTrace(ax, k, st, fColors[k], 0.55)));
  annotations.push({xref: ax.x, yref: 'paper', x: 0.5, y: py(845), text: cohorts[c], showarrow: false,
    font: {family: FONT, size: 8, color: INK}});
  bracket(ax, 0, 1, 863, gSig[c]);
});
label(175, 903, 'Normalized <i>STAT3</i> expression', 8, {textangle: -90});
label(187, 903, '/<i>log</i>(TPM+1)', 8, {textangle: -90});

Plotly.newPlot('fig', traces, layout, {staticPlot: true, displayModeBar: false});
</script>
</body>
</html>
